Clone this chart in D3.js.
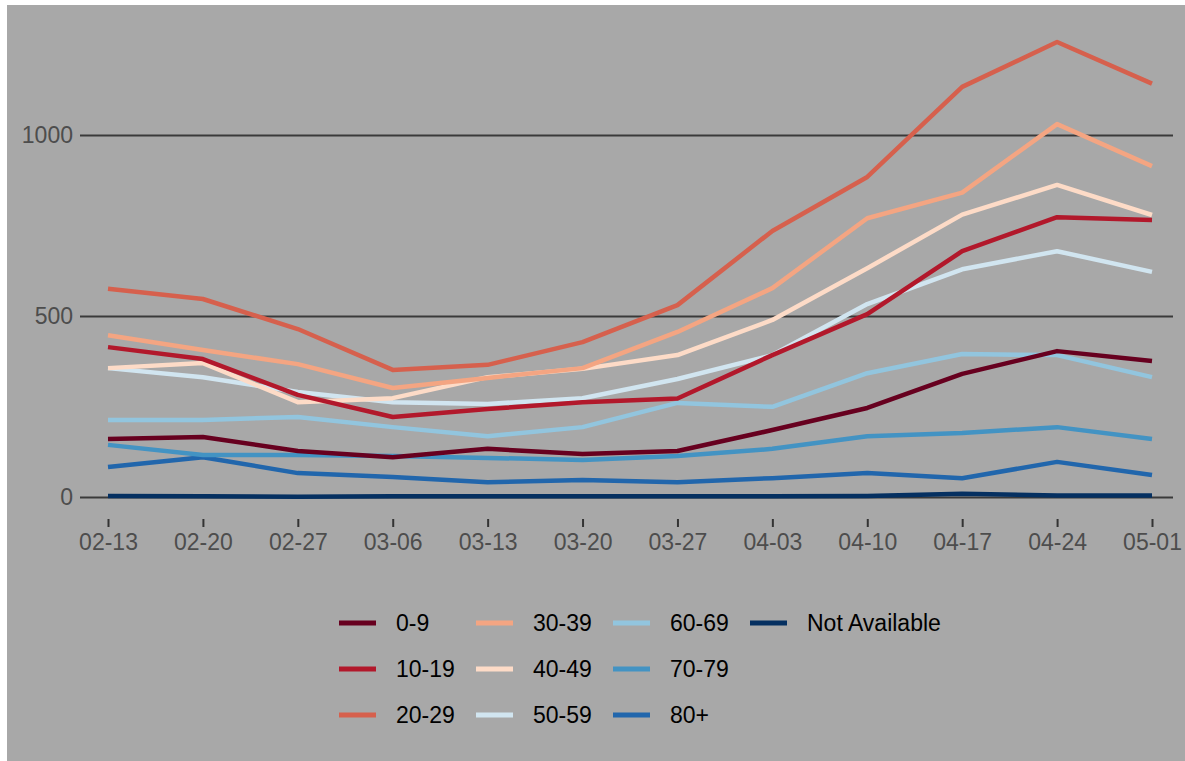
<!DOCTYPE html>
<html lang="en">
<head>
    <meta charset="UTF-8">
    <title>Cases by age group</title>
    <script src="https://d3js.org/d3.v7.min.js"></script>
</head>
<style>
    html, body {
        margin: 0;
        padding: 0;
        background: #fff;
    }
    svg { display: block; }
</style>
<body>
    <div id="chart"></div>
</body>
<script>
    // week labels
    const weeks = ['02-13', '02-20', '02-27', '03-06', '03-13', '03-20', '03-27', '04-03', '04-10', '04-17', '04-24', '05-01'];
    const groups = ['0-9', '10-19', '20-29', '30-39', '40-49', '50-59', '60-69', '70-79', '80+', 'Not Available'];

    // weekly counts per age group
    const age0_9   = [160, 166, 127, 110, 133, 119, 127, 185, 246, 340, 403, 376];
    const age10_19 = [414, 381, 282, 221, 243, 262, 272, 392, 505, 679, 773, 765];
    const age20_29 = [575, 547, 464, 351, 365, 428, 530, 735, 884, 1133, 1257, 1142];
    const age30_39 = [447, 406, 367, 301, 329, 356, 456, 577, 770, 841, 1030, 914];
    const age40_49 = [356, 370, 262, 273, 331, 354, 392, 489, 632, 780, 862, 779];
    const age50_59 = [356, 331, 290, 262, 257, 273, 326, 392, 533, 629, 679, 622];
    const age60_69 = [213, 213, 221, 193, 168, 193, 260, 249, 342, 395, 392, 331];
    const age70_79 = [144, 116, 116, 113, 108, 102, 113, 133, 168, 177, 193, 160];
    const age80    = [83, 110, 66, 55, 41, 47, 41, 52, 66, 52, 97, 61];
    const ageNA    = [3, 2, 1, 2, 2, 2, 2, 2, 3, 9, 4, 4];
    const seriesValues = [age0_9, age10_19, age20_29, age30_39, age40_49, age50_59, age60_69, age70_79, age80, ageNA];

    const yTicks = [0, 500, 1000];
    const colors = ['#67001f', '#b2182b', '#d6604d', '#f4a582', '#fddbc7', '#d1e5f0', '#92c5de', '#4393c3', '#2166ac', '#053061'];

    const width = 1185;
    const height = 761;
    const font = 'Liberation Sans, Arial, sans-serif';

    const svg = d3.select('#chart').append('svg')
        .attr('width', width)
        .attr('height', height);

    // grey panel (white strip on top and left)
    svg.append('rect')
        .attr('x', 7).attr('y', 5)
        .attr('width', width - 7).attr('height', height - 5)
        .attr('fill', '#a8a8a8');

    const x = d3.scalePoint().domain(weeks).range([108, 1152]);
    const y = d3.scaleLinear().domain([0, 1000]).range([497, 135]);

    // y grid + labels
    const gY = svg.append('g')
        .attr('transform', 'translate(80,0)')
        .call(d3.axisLeft(y).tickValues(yTicks).tickFormat(d3.format('d')).tickSize(-1093).tickPadding(7));
    gY.select('.domain').remove();
    gY.selectAll('.tick line').attr('stroke', '#3a3a3a').attr('stroke-width', 2);
    gY.selectAll('.tick text')
        .attr('fill', '#4d4d4d')
        .attr('font-family', font)
        .attr('font-size', 23);

    // x axis
    const gX = svg.append('g')
        .attr('transform', 'translate(0,519)')
        .call(d3.axisBottom(x).tickSize(8).tickPadding(7));
    gX.select('.domain').remove();
    gX.selectAll('.tick line').attr('stroke', '#333').attr('stroke-width', 2);
    gX.selectAll('.tick text')
        .attr('fill', '#4d4d4d')
        .attr('font-family', font)
        .attr('font-size', 23);

    const line = d3.line()
        .x((d, i) => x(weeks[i]))
        .y(d => y(d));

    // draw lines, last group underneath
    svg.append('g').selectAll('path')
        .data(seriesValues.map((v, i) => ({ v, i })).reverse())
        .join('path')
        .attr('d', d => line(d.v))
        .attr('fill', 'none')
        .attr('stroke', d => colors[d.i])
        .attr('stroke-width', 4.5)
        .attr('stroke-linejoin', 'round');

    // legend: 3 rows, filled column by column
    const legend = svg.append('g');
    const colX = [339, 476, 613, 750];
    const rowY = [623, 669, 715];
    groups.forEach((g, i) => {
        const col = Math.floor(i / 3);
        const row = i % 3;
        const item = legend.append('g').attr('transform', `translate(${colX[col]},${rowY[row]})`);
        item.append('line')
            .attr('x1', 0).attr('x2', 37)
            .attr('stroke', colors[i])
            .attr('stroke-width', 5);
        item.append('text')
            .attr('x', 57)
            .attr('dy', '0.35em')
            .attr('font-family', font)
            .attr('font-size', 23)
            .attr('fill', '#000')
            .text(g);
    });
</script>
</html>
